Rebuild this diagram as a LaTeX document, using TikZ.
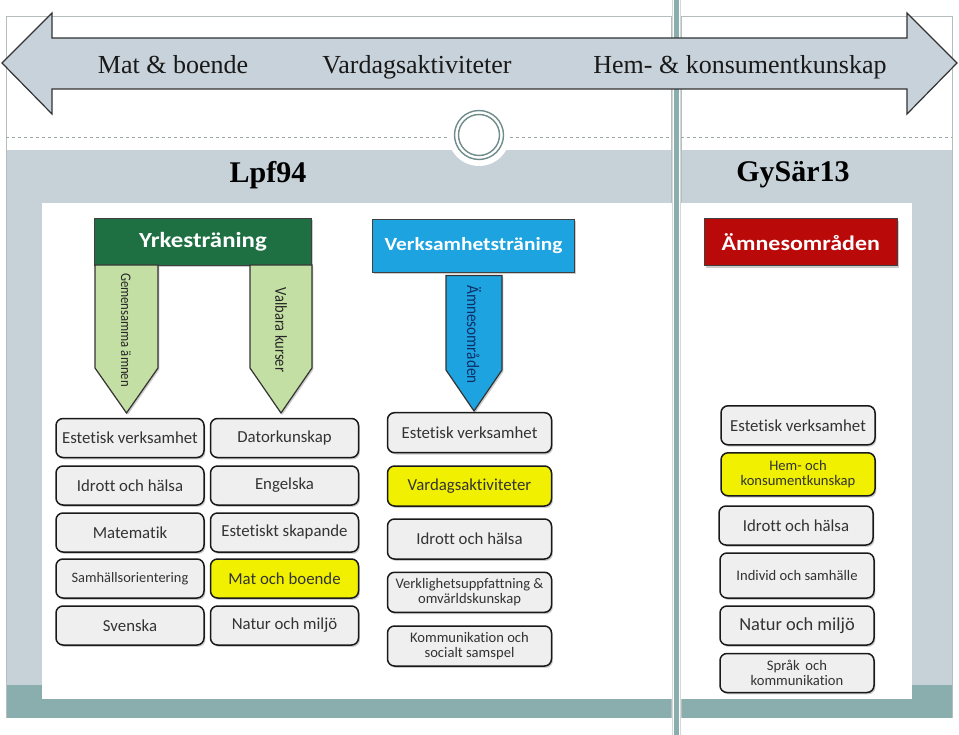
\documentclass[tikz,border=0pt]{standalone}
\usepackage{fontspec}
\setmainfont{Liberation Serif}
\newfontfamily\boxfnt[Ligatures={NoCommon}]{Carlito}
\newfontfamily\hdrfnt[FakeStretch=1.15,Ligatures={NoCommon}]{Carlito}
\newfontfamily\vfnt[FakeStretch=0.87,Ligatures={NoCommon}]{Carlito}
\usetikzlibrary{shadows}
\definecolor{panelgray}{HTML}{C6D1D8}
\definecolor{tealbar}{HTML}{8AADAD}
\definecolor{arrowfill}{HTML}{C8D2DA}
\definecolor{framegray}{HTML}{B4BEBE}
\definecolor{ringcol}{HTML}{6F8B8B}
\definecolor{dashgray}{HTML}{9EA8A8}
\definecolor{hgreen}{HTML}{1E7043}
\definecolor{lgreen}{HTML}{C4DFA3}
\definecolor{hblue}{HTML}{1CA3E0}
\definecolor{dblue}{HTML}{0E2F66}
\definecolor{hred}{HTML}{BA0909}
\definecolor{yel}{HTML}{F0F000}
\definecolor{boxgray}{HTML}{EFEFEF}
\tikzset{
  ttl/.style={anchor=base, font=\fontsize{26}{30}\selectfont, text=black!90, inner sep=0pt},
  era/.style={anchor=base, font=\bfseries\fontsize{30}{34}\selectfont, text=black, inner sep=0pt},
  shad/.style={drop shadow={opacity=0.4, shadow xshift=1.4pt, shadow yshift=-1.8pt}},
  hdr/.style={draw=black!75, line width=1pt, text=white, inner sep=0pt, shad},
  pent/.style={draw=black!80, line width=1.2pt, line join=miter, shad},
  vlabel/.style={rotate=-90, inner sep=0pt, text=black!85},
  box/.style={draw=black!90, line width=1.5pt, rounded corners=7pt, fill=boxgray,
    text=black!80, align=center, inner sep=1pt, shad,
    font=\boxfnt\fontsize{16.8}{18}\selectfont},
  boxA/.style={box, minimum width=148, minimum height=39},
  boxB/.style={box, minimum width=164, minimum height=40},
  boxC/.style={box, minimum width=154, minimum height=39},
  hl/.style={fill=yel},
  twoline/.style={font=\boxfnt\fontsize{14.6}{15.5}\selectfont},
}
\begin{document}
\begin{tikzpicture}[x=1pt,y=-1pt]
\useasboundingbox (0,0) rectangle (959,735);
\fill[white] (0,0) rectangle (959,735);
% panels
\fill[panelgray] (6,150) rectangle (671,685);
\fill[panelgray] (681,150) rectangle (952,685);
\fill[tealbar] (6,685) rectangle (671,718);
\fill[tealbar] (681,685) rectangle (952,718);
\draw[framegray, line width=0.8pt] (6,718) -- (6,16) -- (671,16) -- (671,718);
\draw[framegray, line width=0.8pt] (681,718) -- (681,16) -- (952,16) -- (952,718);
\draw[dashgray, dashed, line width=0.7pt] (6,137) -- (671,137);
\draw[dashgray, dashed, line width=0.7pt] (681,137) -- (952,137);
% medallion
\fill[white] (479,135) circle (31);
\draw[ringcol, line width=1.4pt] (479,135) circle (24.5);
\draw[ringcol, line width=1.4pt] (479,135) circle (20.5);
% white content area
\fill[white] (42,203) rectangle (912,699);
% divider
\draw[framegray!60, line width=0.8pt] (672.3,0) -- (672.3,735);
\draw[framegray!60, line width=0.8pt] (680.7,0) -- (680.7,735);
\fill[tealbar] (674,0) rectangle (679,735);
% big double arrow
\draw[fill=arrowfill, draw=black!80, line width=1.2pt, line join=miter]
  (2,63) -- (52,13) -- (52,38) -- (907,38) -- (907,13) -- (957,63)
  -- (907,114) -- (907,89) -- (52,89) -- (52,114) -- cycle;
\node[ttl] (t1) at (173,74) {Mat \& boende};
\node[ttl] (t2) at (417,74) {Vardagsaktiviteter};
\node[ttl] (t3) at (740,74) {Hem- \& konsumentkunskap};
% era titles
\node[era] (lpf) at (268,183) {Lpf94};
\node[era] (gys) at (793,182) {GySär13};
% headers
\node[hdr, fill=hgreen, minimum width=217, minimum height=47,
  font=\hdrfnt\bfseries\fontsize{21.6}{24}\selectfont] (yrk) at (203,241.7) {Yrkesträning};
\node[hdr, fill=hblue, minimum width=202, minimum height=53.5,
  font=\hdrfnt\bfseries\fontsize{18.6}{22}\selectfont] (verk) at (473.5,245.8) {Verksamhetsträning};
\node[hdr, fill=hred, minimum width=193, minimum height=47,
  font=\hdrfnt\bfseries\fontsize{20.8}{24}\selectfont] (amn) at (800.8,242.5) {Ämnesområden};
% pentagon arrows
\draw[pent, fill=lgreen] (95,265) -- (158,265) -- (158,368) -- (126.5,413) -- (95,368) -- cycle;
\draw[pent, fill=lgreen] (250,265) -- (312,265) -- (312,368) -- (281,413) -- (250,368) -- cycle;
\draw[pent, fill=hblue] (446,275.5) -- (502,275.5) -- (502,370) -- (474,411) -- (446,370) -- cycle;
\node[vlabel, font=\vfnt\fontsize{14.6}{16}\selectfont] (gem) at (126,330) {Gemensamma ämnen};
\node[vlabel, font=\vfnt\fontsize{16.7}{18}\selectfont] (val) at (281,330) {Valbara kurser};
\node[vlabel, text=dblue, font=\vfnt\fontsize{17.5}{19}\selectfont] (amnv) at (474,334.5) {Ämnesområden};
% left column A
\node[boxA] (a1) at (130,438) {Estetisk verksamhet};
\node[boxA] (a2) at (130,485.5) {Idrott och hälsa};
\node[boxA] (a3) at (130,532.5) {Matematik};
\node[boxA, font=\boxfnt\fontsize{14.4}{16}\selectfont] (a4) at (130,578.5) {Samhällsorientering};
\node[boxA] (a5) at (130,625.5) {Svenska};
% left column B
\node[boxA] (b1) at (284.5,438) {Datorkunskap};
\node[boxA] (b2) at (284.5,485.5) {Engelska};
\node[boxA] (b3) at (284.5,532.5) {Estetiskt skapande};
\node[boxA, hl] (b4) at (284.5,578.5) {Mat och boende};
\node[boxA] (b5) at (284.5,625.5) {Natur och miljö};
% middle column
\node[boxB] (m1) at (469.5,432.7) {Estetisk verksamhet};
\node[boxB, hl] (m2) at (469.5,486) {Vardagsaktiviteter};
\node[boxB] (m3) at (469.5,539) {Idrott och hälsa};
\node[boxB, twoline] (m4) at (469.5,592.3) {Verklighetsuppfattning \&\\omvärldskunskap};
\node[boxB, twoline] (m5) at (469.5,646) {Kommunikation och\\socialt samspel};
% right column
\node[boxC] (r1) at (798,425.3) {Estetisk verksamhet};
\node[boxC, hl, twoline, minimum height=43] (r2) at (798,474.3) {Hem- och\\konsumentkunskap};
\node[boxC] (r3) at (796,525.5) {Idrott och hälsa};
\node[boxC, twoline, minimum height=45] (r4) at (797,575.5) {Individ och samhälle};
\node[boxC, font=\boxfnt\fontsize{18.4}{20}\selectfont] (r5) at (797,625.5) {Natur och miljö};
\node[boxC, twoline, minimum height=39] (r6) at (797,673) {Språk\, och\\kommunikation};
\end{tikzpicture}
\end{document}
